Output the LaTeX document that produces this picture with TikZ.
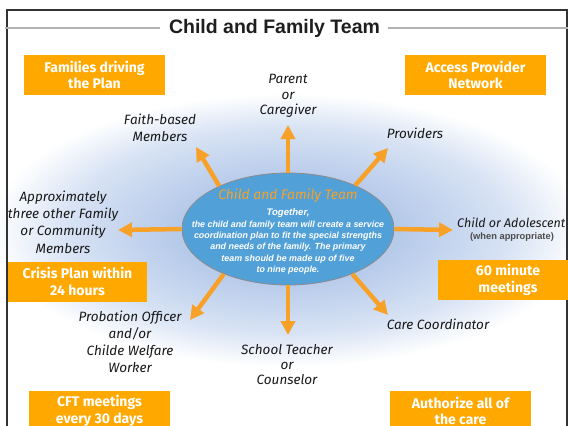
\documentclass[tikz,border=0pt]{standalone}
\usepackage{fontspec}
\setmainfont{Liberation Sans}
\newfontfamily\handfont{Fira Sans}
\newfontfamily\boxfont{Fira Sans}
\usetikzlibrary{shapes.geometric,arrows.meta}
\definecolor{boxorange}{RGB}{255,168,0}
\definecolor{arroworange}{RGB}{247,161,40}
\definecolor{ellblue}{RGB}{82,160,216}
\definecolor{glowblue}{RGB}{182,202,234}
\definecolor{glowmid}{RGB}{216,227,244}
\definecolor{titlegray}{RGB}{30,30,30}
\pgfdeclareradialshading{glowshade}{\pgfpoint{0bp}{0bp}}{color(0bp)=(glowblue); color(9bp)=(glowblue); color(18bp)=(glowmid); color(24bp)=(white); color(50bp)=(white)}
\tikzset{
  obox/.style={fill=boxorange, text=white, minimum width=141pt, minimum height=40pt, inner sep=0pt, align=center, font=\boxfont\bfseries\fontsize{14}{16.5}\selectfont},
  hand/.style={align=center, inner sep=0pt, text=black!90, font=\handfont\itshape\fontsize{13.5}{17}\selectfont},
  tarrow/.style={draw=arroworange, line width=4.5pt, -{Triangle[length=14pt,width=14pt]}},
}
\begin{document}
\begin{tikzpicture}[x=1pt,y=-1pt]
\useasboundingbox (0,0) rectangle (568,426);
\clip (0,0) rectangle (568,426);
\fill[white] (0,0) rectangle (568,426);
% glow
\begin{scope}[shift={(288,230)}, yscale=0.46]
\shade[shading=glowshade] (0,0) circle [radius=310pt];
\end{scope}
% frame
\draw[line width=1.3pt, black!80] (7,432) -- (7,10) -- (567,10) -- (567,432);
% title
\node[font=\bfseries\fontsize{19.5}{22}\selectfont, text=titlegray, inner sep=0pt] (title) at (274.5,28) {Child and Family Team};
\draw[line width=1.6pt, black!30] (5,28) -- (160,28);
\draw[line width=1.6pt, black!30] (388,28) -- (568,28);
% orange boxes
\node[obox] (b1) at (94.5,75) {Families driving\\the Plan};
\node[obox] (b2) at (475.5,75) {Access Provider\\Network};
\node[obox, minimum width=139pt] (b3) at (77.5,281.5) {Crisis Plan within\\24 hours};
\node[obox, minimum width=140pt] (b4) at (508,280) {60 minute\\meetings};
\node[obox] (b5) at (99.5,411) {CFT meetings\\every 30 days};
\node[obox] (b6) at (460.5,411) {Authorize all of\\the care};
% central ellipse
\node[ellipse, draw=black!45, line width=0.8pt, fill=ellblue, minimum width=212pt, minimum height=112pt, inner sep=0pt] (ce) at (288,229) {};
\node[font=\handfont\itshape\fontsize{13.8}{15}\selectfont, text=arroworange, inner sep=0pt] (cetitle) at (288,196) {Child and Family Team};
\node[align=center, text=white, inner sep=0pt, font=\bfseries\itshape\fontsize{8.9}{11.3}\selectfont] (cebody) at (288,241.5) {{\fontsize{9.6}{11.3}\selectfont Together,}\\the child and family team will create a service\\coordination plan to fit the special strengths\\and needs of the family. The primary\\team should be made up of five\\to nine people.};
% labels
\node[hand, font=\handfont\itshape\fontsize{13.5}{15.5}\selectfont] (parent) at (288,96) {Parent\\or\\Caregiver};
\node[hand] (faith) at (160,128) {Faith-based\\Members};
\node[hand] (prov) at (415,133) {Providers};
\node[hand, font=\handfont\itshape\fontsize{13.5}{17.3}\selectfont] (approx) at (63,222) {Approximately\\three other Family\\or Community\\Members};
\node[hand, anchor=west, font=\handfont\itshape\fontsize{12.5}{15}\selectfont] (child) at (457,223) {Child or Adolescent};
\node[inner sep=0pt, text=black!70, font=\bfseries\fontsize{9.3}{10}\selectfont] (when) at (512,237) {(when appropriate)};
\node[hand] (prob) at (130,342) {Probation Officer\\and/or\\Childe Welfare\\Worker};
\node[hand, font=\handfont\itshape\fontsize{13.5}{15}\selectfont] (school) at (287,365) {School Teacher\\or\\Counselor};
\node[hand] (care) at (438,324) {Care Coordinator};
% arrow tips
\coordinate (tUp) at (288,125);
\coordinate (tFaith) at (196,147);
\coordinate (tProv) at (388,148);
\coordinate (tLeft) at (118,230);
\coordinate (tRight) at (453,230);
\coordinate (tLL) at (190,320);
\coordinate (tDown) at (288,335);
\coordinate (tLR) at (388,315);
% arrows
\draw[tarrow] (ce.90) -- (tUp);
\draw[tarrow] (ce.148) -- (tFaith);
\draw[tarrow] (ce.33) -- (tProv);
\draw[tarrow] (ce.180) -- (tLeft);
\draw[tarrow] (ce.0) -- (tRight);
\draw[tarrow] (ce.215) -- (tLL);
\draw[tarrow] (ce.270) -- (tDown);
\draw[tarrow] (ce.325) -- (tLR);
\end{tikzpicture}
\end{document}
